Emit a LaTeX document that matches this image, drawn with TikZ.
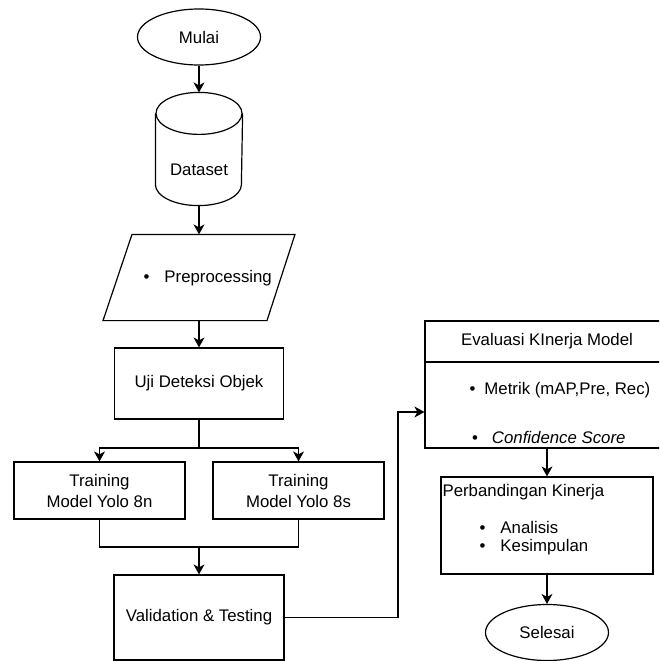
\documentclass[tikz,border=0pt]{standalone}
\usepackage{fontspec}
\setmainfont{Liberation Sans}
\usetikzlibrary{arrows.meta,shapes.geometric}

\newcommand{\itm}[2][15pt]{\textbullet\hspace{#1}#2}

\tikzset{
  box/.style={draw, rectangle, inner sep=0pt},
  oval/.style={draw, ellipse, inner sep=0pt, minimum width=123pt, minimum height=56pt},
  plain/.style={inner sep=0pt},
}

\begin{document}
\begin{tikzpicture}[x=1pt,y=-1pt,line width=1.2pt,>={Stealth[length=10pt,width=11pt,inset=3pt]},
  font=\fontsize{16.8}{21}\selectfont]
          \useasboundingbox (0,0) rectangle (659,661);
          \clip (0,0) rectangle (659,661);

          \node[oval] (mulai) at (199,37) {Mulai};

          \node[plain, minimum width=86pt, minimum height=112pt] (data) at (199,149) {};
          \draw (data.north) ++(0pt,-21pt) ellipse [x radius=43pt, y radius=21pt];
          \draw ([yshift=-21pt]data.north west) -- ([yshift=21pt]data.south west)
            arc[start angle=180, end angle=360, x radius=43pt, y radius=21pt]
            -- ([yshift=-21pt]data.north east);
          \node[plain] (datatxt) at (199,170) {Dataset};

          \node[plain, minimum width=192pt, minimum height=85pt] (prep) at (199,277.5) {};
          \draw ([xshift=-67pt]prep.north) -- ([xshift=96pt]prep.north)
            -- ([xshift=68pt]prep.south) -- ([xshift=-96pt]prep.south) -- cycle;
          \node[plain, anchor=west] (preptxt) at (143,278) {\itm{Preprocessing}};

          \node[box, minimum width=169pt, minimum height=71pt] (uji) at (199,383.5) {Uji Deteksi Objek};

          \node[box, minimum width=171pt, minimum height=57pt, align=center] (t8n) at (99.5,490.5) {Training\\Model Yolo 8n};
          \node[box, minimum width=171pt, minimum height=57pt, align=center] (t8s) at (298.5,490.5) {Training\\Model Yolo 8s};

          \node[box, minimum width=170pt, minimum height=85pt] (valid) at (199,617.5) {Validation \& Testing};

          \node[box, minimum width=244pt, minimum height=127pt] (eval) at (547,384.5) {};
          \coordinate (evaldiv) at (547,362);
          \draw (eval.west |- evaldiv) -- (eval.east |- evaldiv);
          \node[plain] (evalhead) at (547,341.5) {Evaluasi KInerja Model};
          \node[plain, anchor=west] (metrik) at (469,390) {\itm[9pt]{Metrik (mAP,Pre, Rec)}};
          \node[plain, anchor=west] (conf) at (471.5,437) {\itm[14pt]{\itshape Confidence Score}};

          \node[box, minimum width=212pt, minimum height=97pt] (banding) at (547,525.5) {};
          \node[plain, anchor=west] (bandhead) at (442,492) {Perbandingan Kinerja};
          \node[plain, anchor=west] (analisis) at (479,527) {\itm{Analisis}};
          \node[plain, anchor=west] (simpul) at (479,547) {\itm{Kesimpulan}};

          \node[oval] (selesai) at (547,632.5) {Selesai};

          \coordinate (split) at (199,448);
          \coordinate (merge) at (199,547);
          \coordinate (bend) at (398,412);

          \draw[->] (mulai) -- (data);
          \draw[->] (data) -- (prep);
          \draw[->] (prep) -- (uji);
          \draw (uji) -- (split);
          \draw[->] (split) -| (t8n.north);
          \draw[->] (split) -| (t8s.north);
          \draw (t8n.south) |- (merge);
          \draw (t8s.south) |- (merge);
          \draw[->] (merge) -- (valid);
          \draw[->] (valid.east) -| (bend) -- (bend -| eval.west);
          \draw[->] (eval) -- (banding);
          \draw[->] (banding) -- (selesai);
        \end{tikzpicture}
\end{document}
